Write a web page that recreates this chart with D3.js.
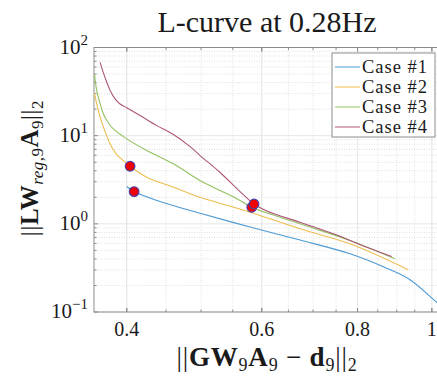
<!DOCTYPE html>
<html>
<head>
<meta charset="utf-8">
<script src="https://cdn.jsdelivr.net/npm/d3@7"></script>
<style>
  body { margin: 0; background: #fff; }
  svg text { font-family: "Liberation Serif", "Times New Roman", serif; fill: #1a1a1a; }
</style>
</head>
<body>
<script>
// residual norm (x) vs regularised solution norm (y)
var case1X = [0.400, 0.4089, 0.4377, 0.4985, 0.5792, 0.6731, 0.7821, 0.8688, 0.9365, 1.0147, 1.0404];
var case1Y = [2.65, 2.32, 1.84, 1.319, 0.920, 0.655, 0.457, 0.3195, 0.232, 0.129, 0.1096];
var case2X = [0.3628, 0.3692, 0.3748, 0.3805, 0.3882, 0.396, 0.404, 0.4248, 0.4601, 0.4985, 0.5792, 0.6731, 0.7821, 0.9317];
var case2Y = [30.8, 16.2, 11.1, 8.07, 6.1, 5.22, 4.50, 3.38, 2.60, 2.00, 1.354, 0.878, 0.593, 0.301];
var case3X = [0.3631, 0.3655, 0.3692, 0.3728, 0.3782, 0.3842, 0.400, 0.4248, 0.4601, 0.4985, 0.5294, 0.5621, 0.5822, 0.6731, 0.7821, 0.8952];
var case3Y = [49.3, 32.5, 23.1, 17.7, 14.1, 11.94, 9.20, 6.78, 4.79, 3.10, 2.39, 1.84, 1.54, 1.0, 0.647, 0.401];
var case4X = [0.3692, 0.3728, 0.3767, 0.3805, 0.3862, 0.392, 0.400, 0.4163, 0.4377, 0.4601, 0.4838, 0.4985, 0.5294, 0.5621, 0.5862, 0.609, 0.6731, 0.7439, 0.8223, 0.8864];
var case4Y = [67.9, 51.9, 40.3, 32.5, 26.1, 22.9, 20.7, 16.9, 13.0, 10.3, 7.52, 5.95, 3.82, 2.32, 1.68, 1.40, 1.04, 0.770, 0.543, 0.426];
var cornerX = [0.4089, 0.404, 0.5822, 0.5862];
var cornerY = [2.32, 4.50, 1.54, 1.68];
var caseNames = ["Case #1", "Case #2", "Case #3", "Case #4"];
var xTicks = [0.4, 0.6, 0.8, 1];
var yTicks = [0.1, 1, 10, 100];

var colors = ["#4d9ad4", "#edbd4f", "#93c160", "#ad5676"];
var series = [[case1X, case1Y], [case2X, case2Y], [case3X, case3Y], [case4X, case4Y]];

var W = 437, H = 380;
var svg = d3.select("body").append("svg").attr("width", W).attr("height", H);

var L = 94, R = 441.7, T = 47.5, B = 312;
var x = d3.scaleLog().domain([0.3625, 1.03]).range([L, R]);
var y = d3.scaleLog().domain([0.1, 100]).range([B, T]);

// minor ticks / grid
var xMinor = d3.range(0.40, 1.03, 0.05).map(function(v) { return +v.toFixed(2); });
var yMinor = [];
[0.1, 1, 10].forEach(function(d) { for (var k = 2; k <= 9; k++) yMinor.push(d * k); });

var grid = svg.append("g");
grid.selectAll(".xm").data(xMinor).enter().append("line")
  .attr("x1", function(d) { return x(d); }).attr("x2", function(d) { return x(d); })
  .attr("y1", T).attr("y2", B)
  .attr("stroke", "#e0e0e0").attr("stroke-dasharray", "1,1.5");
grid.selectAll(".ym").data(yMinor).enter().append("line")
  .attr("y1", function(d) { return y(d); }).attr("y2", function(d) { return y(d); })
  .attr("x1", L).attr("x2", R)
  .attr("stroke", "#e0e0e0").attr("stroke-dasharray", "1,1.5");
grid.selectAll(".xM").data(xTicks).enter().append("line")
  .attr("x1", function(d) { return x(d); }).attr("x2", function(d) { return x(d); })
  .attr("y1", T).attr("y2", B).attr("stroke", "#e6e6e6");
grid.selectAll(".yM").data(yTicks).enter().append("line")
  .attr("y1", function(d) { return y(d); }).attr("y2", function(d) { return y(d); })
  .attr("x1", L).attr("x2", R).attr("stroke", "#e6e6e6");

// box with inward ticks
var axCol = "#8c8c8c";
svg.append("rect").attr("x", L).attr("y", T).attr("width", R - L).attr("height", B - T)
  .attr("fill", "none").attr("stroke", axCol);
xMinor.concat(xTicks).forEach(function(v) {
  var len = xTicks.indexOf(v) >= 0 ? 4 : 2.5;
  svg.append("line").attr("x1", x(v)).attr("x2", x(v)).attr("y1", B).attr("y2", B - len).attr("stroke", axCol);
  svg.append("line").attr("x1", x(v)).attr("x2", x(v)).attr("y1", T).attr("y2", T + len).attr("stroke", axCol);
});
yMinor.concat(yTicks).forEach(function(v) {
  var len = yTicks.indexOf(v) >= 0 ? 4 : 2.5;
  svg.append("line").attr("y1", y(v)).attr("y2", y(v)).attr("x1", L).attr("x2", L + len).attr("stroke", axCol);
});

// tick labels
svg.selectAll(".xl").data(xTicks).enter().append("text")
  .attr("x", function(d) { return x(d); }).attr("y", 336)
  .attr("text-anchor", "middle").attr("font-size", 20)
  .text(function(d) { return d === 1 ? "1" : d.toFixed(1); });
svg.selectAll(".yl").data(yTicks).enter().append("text")
  .attr("x", 88).attr("y", function(d) { return y(d) + 6; })
  .attr("text-anchor", "end").attr("font-size", 21)
  .each(function(d) {
    var t = d3.select(this);
    var e = Math.round(Math.log10(d));
    t.append("tspan").text("10");
    t.append("tspan").attr("dy", -9).attr("font-size", 15).text(e < 0 ? "\u22121" : e);
  });

// curves
svg.append("clipPath").attr("id", "clip").append("rect")
  .attr("x", L).attr("y", T).attr("width", R - L).attr("height", B - T);
var line = d3.line().x(function(d) { return x(d[0]); }).y(function(d) { return y(d[1]); })
  .curve(d3.curveCatmullRom.alpha(0.5));
series.forEach(function(s, i) {
  var pts = s[0].map(function(v, j) { return [v, s[1][j]]; });
  svg.append("path").datum(pts).attr("clip-path", "url(#clip)")
    .attr("d", line).attr("fill", "none").attr("stroke", colors[i]).attr("stroke-width", 1.1);
});

// L-curve corners
svg.selectAll(".dot").data(cornerX).enter().append("circle")
  .attr("cx", function(d) { return x(d); })
  .attr("cy", function(d, i) { return y(cornerY[i]); })
  .attr("r", 4.8).attr("fill", "#f00000").attr("stroke", "#4b3ca8").attr("stroke-width", 1.2);

// legend
var lg = svg.append("g");
lg.append("rect").attr("x", 332).attr("y", 53).attr("width", 103).attr("height", 84)
  .attr("fill", "#fff").attr("stroke", "#8c8c8c");
caseNames.forEach(function(n, i) {
  var yy = 67 + i * 20;
  lg.append("line").attr("x1", 335).attr("x2", 360).attr("y1", yy).attr("y2", yy)
    .attr("stroke", colors[i]).attr("stroke-width", 1);
  lg.append("text").attr("x", 362).attr("y", yy + 6).attr("font-size", 18.5)
    .attr("letter-spacing", 1).text(n);
});

// title
svg.append("text").attr("x", 267).attr("y", 32).attr("text-anchor", "middle")
  .attr("font-size", 30).text("L-curve at 0.28Hz");

// x label: ||GW9A9 - d9||2
var xl = svg.append("text").attr("x", 267).attr("y", 366).attr("text-anchor", "middle")
  .attr("font-size", 27).attr("letter-spacing", 0.8);
xl.append("tspan").text("||");
xl.append("tspan").attr("font-weight", "bold").text("GW");
xl.append("tspan").attr("font-size", 18).attr("dy", 5).text("9");
xl.append("tspan").attr("font-weight", "bold").attr("dy", -5).text("A");
xl.append("tspan").attr("font-size", 18).attr("dy", 5).text("9");
xl.append("tspan").attr("dy", -5).text(" \u2212 ");
xl.append("tspan").attr("font-weight", "bold").text("d");
xl.append("tspan").attr("font-size", 18).attr("dy", 5).text("9");
xl.append("tspan").attr("dy", -5).text("||");
xl.append("tspan").attr("font-size", 18).attr("dy", 5).text("2");

// y label: ||LW_reg,9 A9||2
var yl = svg.append("text").attr("transform", "translate(38,168) rotate(-90)")
  .attr("text-anchor", "middle").attr("font-size", 25).attr("letter-spacing", 0.5);
yl.append("tspan").text("||");
yl.append("tspan").attr("font-weight", "bold").text("LW");
yl.append("tspan").attr("font-size", 17).attr("dy", 5).attr("font-style", "italic").text("reg");
yl.append("tspan").attr("font-size", 17).text(",9");
yl.append("tspan").attr("font-weight", "bold").attr("dy", -5).text("A");
yl.append("tspan").attr("font-size", 17).attr("dy", 5).text("9");
yl.append("tspan").attr("dy", -5).text("||");
yl.append("tspan").attr("font-size", 17).attr("dy", 5).text("2");
</script>
</body>
</html>
